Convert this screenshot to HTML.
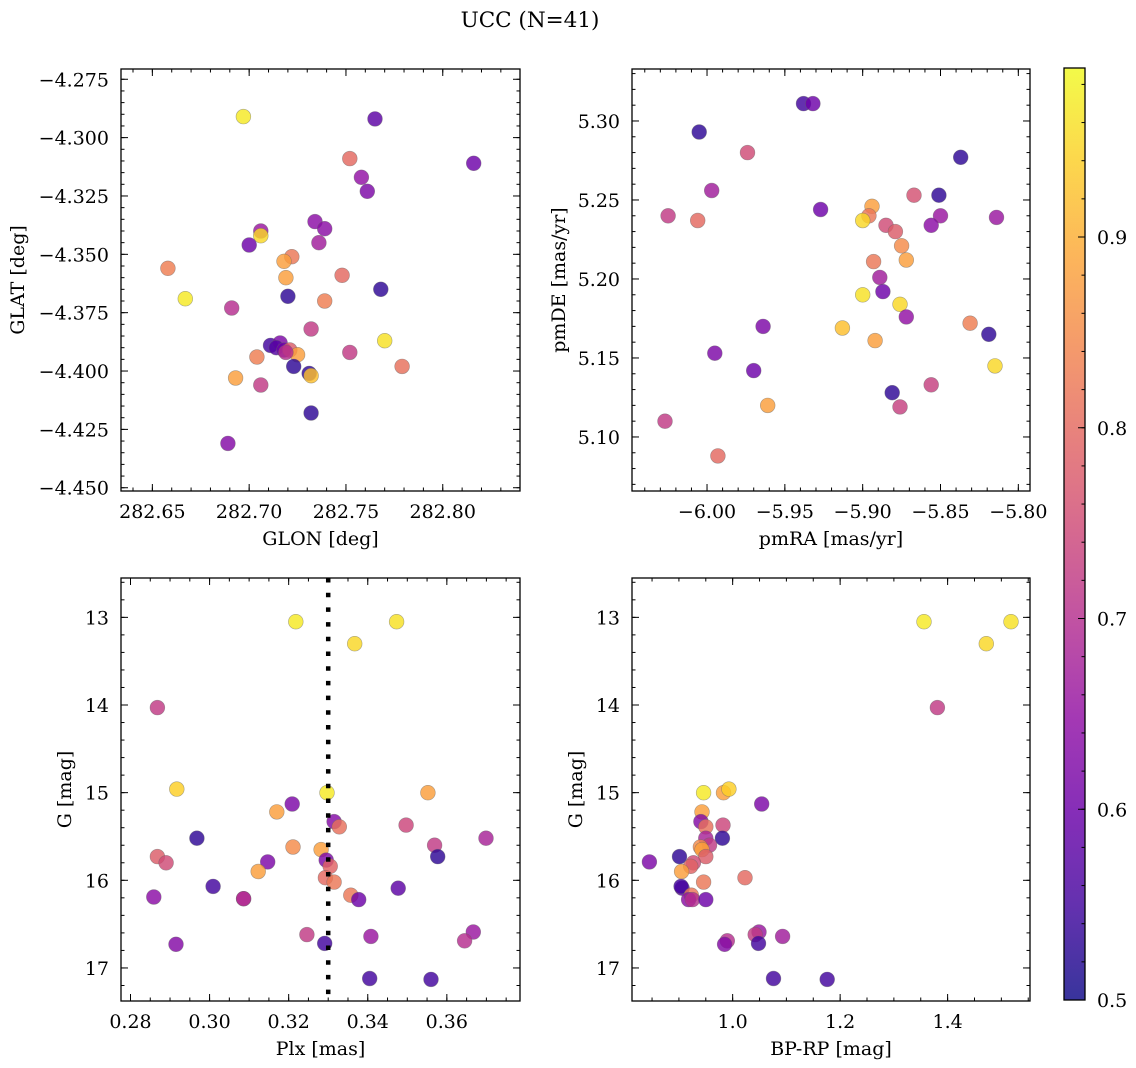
<!DOCTYPE html>
<html><head><meta charset="utf-8"><title>UCC (N=41)</title>
<style>
html,body{margin:0;padding:0;background:#fff;}
svg{display:block;font-family:"DejaVu Serif","Liberation Serif",serif;}
</style></head>
<body>
<svg id="fig" width="1136" height="1068" viewBox="0 0 1136 1068" xmlns="http://www.w3.org/2000/svg">
<text x="530" y="27" font-size="21.5" text-anchor="middle">UCC (N=41)</text>
</svg>
<script>
// ---- data: top-left (GLON / GLAT)
const tlGlon=[282.697,282.765,282.752,282.816,282.758,282.761,282.734,282.739,282.706,282.706,282.700,282.736,282.722,282.718,282.658,282.719,282.748,282.720,282.768,282.667,282.739,282.691,282.732,282.770,282.711,282.716,282.714,282.718,282.721,282.725,282.704,282.752,282.723,282.779,282.731,282.732,282.693,282.706,282.732,282.689,282.719];
const tlGlat=[-4.291,-4.292,-4.309,-4.311,-4.317,-4.323,-4.336,-4.339,-4.340,-4.342,-4.346,-4.345,-4.351,-4.353,-4.356,-4.360,-4.359,-4.368,-4.365,-4.369,-4.370,-4.373,-4.382,-4.387,-4.389,-4.388,-4.390,-4.391,-4.391,-4.393,-4.394,-4.392,-4.398,-4.398,-4.401,-4.402,-4.403,-4.406,-4.418,-4.431,-4.392];
const tlProb=[0.97,0.58,0.8,0.6,0.65,0.62,0.64,0.64,0.66,0.95,0.6,0.67,0.82,0.88,0.83,0.88,0.8,0.53,0.53,0.97,0.83,0.7,0.72,0.96,0.55,0.62,0.57,0.6,0.78,0.88,0.83,0.72,0.53,0.81,0.53,0.92,0.88,0.72,0.53,0.63,0.7];
// ---- data: top-right (pmRA / pmDE)
const trPmra=[-5.938,-5.932,-6.005,-5.974,-5.837,-5.997,-5.867,-5.851,-5.927,-5.894,-6.025,-6.006,-5.896,-5.900,-5.850,-5.814,-5.885,-5.856,-5.879,-5.875,-5.893,-5.872,-5.889,-5.887,-5.900,-5.876,-5.872,-5.819,-5.831,-5.964,-5.913,-5.892,-5.995,-5.815,-5.970,-5.856,-5.881,-5.961,-5.876,-6.027,-5.993];
const trPmde=[5.311,5.311,5.293,5.280,5.277,5.256,5.253,5.253,5.244,5.246,5.240,5.237,5.240,5.237,5.240,5.239,5.234,5.234,5.230,5.221,5.211,5.212,5.201,5.192,5.190,5.184,5.176,5.165,5.172,5.170,5.169,5.161,5.153,5.145,5.142,5.133,5.128,5.120,5.119,5.110,5.088];
const trProb=[0.55,0.6,0.53,0.75,0.53,0.67,0.76,0.53,0.6,0.88,0.72,0.8,0.82,0.95,0.66,0.66,0.75,0.64,0.78,0.85,0.82,0.88,0.67,0.6,0.96,0.95,0.65,0.53,0.83,0.62,0.92,0.88,0.62,0.95,0.6,0.73,0.53,0.88,0.73,0.72,0.8];
// ---- data: bottom-left (Plx / G)
const blPlx=[0.3218,0.3473,0.3367,0.2868,0.2917,0.3297,0.3552,0.3209,0.317,0.3315,0.3328,0.3497,0.2968,0.3699,0.3569,0.3211,0.3282,0.2868,0.3577,0.3295,0.289,0.3147,0.3305,0.3123,0.3293,0.3315,0.3009,0.3477,0.3357,0.2859,0.3086,0.3086,0.3377,0.3246,0.3667,0.3408,0.3645,0.3291,0.2915,0.3405,0.356];
const blG=[13.05,13.05,13.30,14.03,14.96,15.00,15.00,15.13,15.22,15.33,15.39,15.37,15.52,15.52,15.60,15.62,15.65,15.73,15.73,15.77,15.80,15.79,15.84,15.90,15.97,16.02,16.07,16.09,16.17,16.19,16.21,16.21,16.22,16.62,16.59,16.64,16.69,16.72,16.73,17.12,17.13];
const blProb=[0.97,0.96,0.95,0.72,0.94,0.97,0.88,0.62,0.88,0.63,0.81,0.74,0.53,0.68,0.72,0.85,0.88,0.78,0.53,0.62,0.75,0.62,0.79,0.88,0.8,0.82,0.55,0.58,0.82,0.64,0.66,0.7,0.6,0.72,0.66,0.66,0.7,0.55,0.63,0.55,0.55];
const plxRef=[0.33];
// ---- data: bottom-right (BP-RP / G)
const brBprp=[1.356,1.518,1.472,1.381,0.946,0.983,0.993,1.054,0.943,0.941,0.950,0.982,0.981,0.950,0.957,0.940,0.943,0.950,0.901,0.845,0.927,0.922,0.905,1.023,0.946,0.906,0.904,0.923,0.918,0.925,0.950,1.049,1.042,1.093,0.990,1.048,0.985,1.076,1.176];
const brG=[13.05,13.05,13.30,14.03,15.00,15.00,14.96,15.13,15.22,15.33,15.39,15.37,15.52,15.52,15.60,15.62,15.65,15.73,15.73,15.79,15.80,15.84,15.90,15.97,16.02,16.09,16.07,16.17,16.22,16.22,16.22,16.59,16.62,16.64,16.69,16.72,16.73,17.12,17.13];
const brProb=[0.97,0.96,0.95,0.72,0.97,0.88,0.94,0.62,0.88,0.63,0.81,0.74,0.53,0.68,0.72,0.85,0.88,0.78,0.53,0.62,0.75,0.79,0.88,0.8,0.82,0.58,0.55,0.82,0.64,0.7,0.6,0.66,0.72,0.67,0.7,0.55,0.63,0.55,0.55];
// ---- tick labels
const tlXTicks=[282.65,282.70,282.75,282.80];
const tlYTicks=[-4.275,-4.300,-4.325,-4.350,-4.375,-4.400,-4.425,-4.450];
const trXTicks=[-6.00,-5.95,-5.90,-5.85,-5.80];
const trYTicks=[5.10,5.15,5.20,5.25,5.30];
const blXTicks=[0.28,0.30,0.32,0.34,0.36];
const gTicks=[13,14,15,16,17];
const brXTicks=[1.0,1.2,1.4];
const cbTicks=[0.5,0.6,0.7,0.8,0.9];
const cbRange=[0.5,0.9886];

const NS="http://www.w3.org/2000/svg";
const svg=document.getElementById('fig');
const FS=19;
function mk(tag,attrs,parent){const e=document.createElementNS(NS,tag);for(const k in attrs)e.setAttribute(k,attrs[k]);(parent||svg).appendChild(e);return e;}
const plasma=["#0d0887","#41049d","#6a00a8","#8f0da4","#b12a90","#cc4778","#e16462","#f2844b","#fca636","#fcce25","#f0f921"];
function hx(c){return [parseInt(c.substr(1,2),16),parseInt(c.substr(3,2),16),parseInt(c.substr(5,2),16)];}
function cmap(t){t=Math.max(0,Math.min(1,t));const f=t*10,i=Math.min(9,Math.floor(f)),r=f-i;const a=hx(plasma[i]),b=hx(plasma[i+1]);return "rgb("+a.map((v,k)=>Math.round(v+(b[k]-v)*r)).join(",")+")";}
function pcol(p){return cmap((p-cbRange[0])/(cbRange[1]-cbRange[0]));}
function fmt(v,d){const s=Math.abs(v).toFixed(d);return (v<0?"\u2212":"")+s;}

function panel(o){
  const g=mk('g',{},svg);
  
  
  const sx=v=>o.x0+(v-o.xd[0])/(o.xd[1]-o.xd[0])*(o.x1-o.x0);
  const sy=o.inv?(v=>o.y0+(v-o.yd[0])/(o.yd[1]-o.yd[0])*(o.y1-o.y0)):(v=>o.y1-(v-o.yd[0])/(o.yd[1]-o.yd[0])*(o.y1-o.y0));
  const yLo=Math.min(o.yd[0],o.yd[1]),yHi=Math.max(o.yd[0],o.yd[1]);
  const pg=mk('g',{},g);
  
  
  for(let i=0;i<o.xs.length;i++){
    const c=mk('circle',{cx:sx(o.xs[i]).toFixed(1),cy:sy(o.ys[i]).toFixed(1),r:7.4,fill:pcol(o.ps[i]),'fill-opacity':0.82,stroke:'#666','stroke-opacity':0.55,'stroke-width':0.6},pg);
    
    
  }
  if(o.vline){for(const v of o.vline){const l=mk('line',{x1:sx(v),x2:sx(v),y1:o.y0,y2:o.y1,stroke:'#000','stroke-width':4.5,'stroke-dasharray':'4.5 10.2'},g);
    
    }}
  const tg=mk('g',{stroke:'#000','stroke-width':1},g);
  
  
  const eps=1e-9;
  for(let v=Math.ceil(o.xd[0]/o.xm-eps)*o.xm;v<=o.xd[1]+eps;v+=o.xm){const X=sx(v);mk('line',{x1:X,x2:X,y1:o.y1,y2:o.y1-3.5},tg);mk('line',{x1:X,x2:X,y1:o.y0,y2:o.y0+3.5},tg);}
  for(let v=Math.ceil(yLo/o.ym-eps)*o.ym;v<=yHi+eps;v+=o.ym){const Y=sy(v);mk('line',{x1:o.x0,x2:o.x0+3.5,y1:Y,y2:Y},tg);mk('line',{x1:o.x1,x2:o.x1-3.5,y1:Y,y2:Y},tg);}
  for(const v of o.xt){const X=sx(v);mk('line',{x1:X,x2:X,y1:o.y1,y2:o.y1-7},tg);mk('line',{x1:X,x2:X,y1:o.y0,y2:o.y0+7},tg);
    const t=mk('text',{x:X,y:o.y1+27,'font-size':FS,'text-anchor':'middle'},g);t.textContent=fmt(v,o.xdec);
    
    }
  for(const v of o.yt){const Y=sy(v);mk('line',{x1:o.x0,x2:o.x0+7,y1:Y,y2:Y},tg);mk('line',{x1:o.x1,x2:o.x1-7,y1:Y,y2:Y},tg);
    const t=mk('text',{x:o.x0-12,y:Y+7,'font-size':FS,'text-anchor':'end'},g);t.textContent=fmt(v,o.ydec);
    
    }
  const fr=mk('rect',{x:o.x0,y:o.y0,width:o.x1-o.x0,height:o.y1-o.y0,fill:'none',stroke:'#000','stroke-width':1.3},g);
  
  
  const xl=mk('text',{x:(o.x0+o.x1)/2,y:o.y1+54,'font-size':FS,'text-anchor':'middle'},g);xl.textContent=o.xlab;
  
  
  const yc=(o.y0+o.y1)/2;
  const yl=mk('text',{x:o.ylx,y:yc,'font-size':FS,'text-anchor':'middle',transform:'rotate(-90 '+o.ylx+' '+yc+')'},g);yl.textContent=o.ylab;
  
  
}

panel({name:'glon-glat-panel',x0:121,x1:520,y0:69,y1:491,xd:[282.6338,282.8399],yd:[-4.4514,-4.2706],xs:tlGlon,ys:tlGlat,ps:tlProb,xt:tlXTicks,yt:tlYTicks,xm:0.01,ym:0.005,xdec:2,ydec:3,xlab:'GLON [deg]',ylab:'GLAT [deg]',ylx:24});
panel({name:'pm-panel',x0:632,x1:1030,y0:69,y1:491,xd:[-6.0482,-5.7925],yd:[5.0658,5.3329],xs:trPmra,ys:trPmde,ps:trProb,xt:trXTicks,yt:trYTicks,xm:0.01,ym:0.01,xdec:2,ydec:2,xlab:'pmRA [mas/yr]',ylab:'pmDE [mas/yr]',ylx:565});
panel({name:'plx-g-panel',x0:121,x1:520,y0:578,y1:1001,xd:[0.2776,0.3785],yd:[12.551,17.377],inv:true,xs:blPlx,ys:blG,ps:blProb,xt:blXTicks,yt:gTicks,xm:0.005,ym:0.2,xdec:2,ydec:0,xlab:'Plx [mas]',ylab:'G [mag]',ylx:71,vline:plxRef});
panel({name:'cmd-panel',x0:632,x1:1030,y0:578,y1:1001,xd:[0.8127,1.5533],yd:[12.551,17.377],inv:true,xs:brBprp,ys:brG,ps:brProb,xt:brXTicks,yt:gTicks,xm:0.05,ym:0.2,xdec:1,ydec:0,xlab:'BP-RP [mag]',ylab:'G [mag]',ylx:582});

(function(){
  const cx0=1064,cx1=1085,cy0=68,cy1=1000;
  const defs=mk('defs',{});
  const lg=mk('linearGradient',{id:'cbg',x1:0,y1:1,x2:0,y2:0},defs);
  for(let i=0;i<=20;i++){mk('stop',{offset:(i/20),'stop-color':cmap(i/20),'stop-opacity':0.82},lg);}
  const g=mk('g',{});
  
  
  mk('rect',{x:cx0,y:cy0,width:cx1-cx0,height:cy1-cy0,fill:'url(#cbg)',stroke:'#000','stroke-width':1.3},g);
  const sy=v=>cy1-(v-cbRange[0])/(cbRange[1]-cbRange[0])*(cy1-cy0);
  for(let v=0.52;v<cbRange[1];v+=0.02){mk('line',{x1:cx1,x2:cx1-3.5,y1:sy(v),y2:sy(v),stroke:'#000','stroke-width':1},g);}
  for(const v of cbTicks){const Y=sy(v);mk('line',{x1:cx1,x2:cx1-7,y1:Y,y2:Y,stroke:'#000','stroke-width':1},g);
    const t=mk('text',{x:cx1+12,y:Y+7,'font-size':FS},g);t.textContent=v.toFixed(1);
    
    }
})();
</script>
</body></html>
